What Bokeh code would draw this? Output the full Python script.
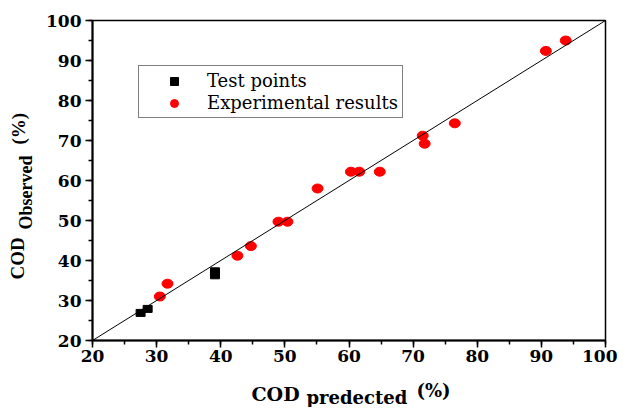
from bokeh.plotting import figure
from bokeh.models import (Range1d, SingleIntervalTicker, Label, Legend, LegendItem,
                          Slope, ColumnDataSource, GridBox, Column)
from bokeh.embed import file_html
from bokeh.resources import INLINE
import math

# ---- data ----
test_x = [27.5, 28.6, 39.1, 39.1]
test_y = [26.9, 27.9, 37.3, 36.3]
exp_x = [30.5, 31.7, 42.6, 44.7, 49.0, 50.4, 55.1, 60.3, 61.6, 64.8, 71.5, 71.8, 76.5, 90.7, 93.8]
exp_y = [31.0, 34.2, 41.2, 43.6, 49.7, 49.7, 58.0, 62.2, 62.2, 62.2, 71.2, 69.2, 74.3, 92.4, 95.0]
legend_labels = ["Test points", "Experimental results"]
x_title = ["COD", "predected", "(%)"]
y_title = ["COD", "Observed", "(%)"]

W, H = 617, 407

p = figure(width=W, height=H, output_backend="svg", toolbar_location=None,
           x_range=Range1d(20, 100), y_range=Range1d(20, 100),
           min_border_left=92, min_border_right=12, min_border_top=20, min_border_bottom=67)
p.background_fill_color = "white"
p.border_fill_color = "white"
p.grid.visible = False
p.outline_line_color = "black"
p.outline_line_width = 1.5

for ax in (p.xaxis[0], p.yaxis[0]):
    ax.ticker = SingleIntervalTicker(interval=10, num_minor_ticks=2)
    ax.axis_line_width = 2
    ax.axis_line_color = "black"
    ax.major_tick_in = 0
    ax.major_tick_out = 7
    ax.minor_tick_in = 0
    ax.minor_tick_out = 4
    ax.major_tick_line_width = 1.5
    ax.minor_tick_line_width = 1.5
    ax.major_tick_line_color = "black"
    ax.minor_tick_line_color = "black"
    ax.major_label_text_font = "DejaVu Serif"
    ax.major_label_text_font_style = "bold"
    ax.major_label_text_font_size = "17px"
    ax.major_label_text_color = "black"
p.xaxis.major_label_standoff = 2
p.yaxis.major_label_standoff = 4

# y = x reference line
p.add_layout(Slope(gradient=1, y_intercept=0, line_color="black", line_width=1))

# data marks
src_t = ColumnDataSource(dict(x=test_x, y=test_y))
src_e = ColumnDataSource(dict(x=exp_x, y=exp_y))
p.ellipse(x="x", y="y", width=11, height=9, width_units="screen", height_units="screen",
          source=src_e, fill_color="red", line_color="red")
p.rect(x="x", y="y", width=9, height=7, width_units="screen", height_units="screen",
       source=src_t, fill_color="black", line_color="black")

# legend proxies (not drawn in the plot: NaN position)
nan = float("nan")
lt = p.scatter(x=[nan], y=[nan], marker="square", size=8, fill_color="black", line_color="black")
le = p.scatter(x=[nan], y=[nan], marker="circle", size=8, fill_color="red", line_color="red")
legend = Legend(items=[LegendItem(label=legend_labels[0], renderers=[lt]),
                       LegendItem(label=legend_labels[1], renderers=[le])],
                location=(46, 222), margin=0, padding=4, spacing=1,
                glyph_width=62, glyph_height=20, label_height=20, label_standoff=2,
                label_text_font="DejaVu Serif", label_text_font_size="18px",
                label_text_color="black",
                border_line_color="black", border_line_width=1,
                background_fill_color="white", background_fill_alpha=1)
p.add_layout(legend, "center")

# transparent overlay canvas (same size, same grid cell) for the axis titles,
# whose coordinates are canvas pixels (y measured upward from the bottom)
ov = figure(width=W, height=H, output_backend="svg", toolbar_location=None,
            x_range=Range1d(0, W), y_range=Range1d(0, H),
            x_axis_type=None, y_axis_type=None,
            min_border_left=0, min_border_right=0, min_border_top=0, min_border_bottom=0)
ov.outline_line_color = None
ov.background_fill_alpha = 0
ov.border_fill_alpha = 0
ov.grid.visible = False

try:
    p.frame_align = False
    ov.frame_align = False
    ov_child = ov
except Exception:
    ov_child = Column(ov)


def title_part(x, y, text, font, size, angle=0.0):
    ov.add_layout(Label(x=x, y=y, text=text, angle=angle,
                        text_font=font, text_font_style="bold", text_font_size=size,
                        text_color="black", text_baseline="alphabetic", text_align="left"))


xf = "DejaVu Serif"
title_part(251, 14, x_title[0], xf, "19px")
title_part(306, 10, x_title[1], xf, "18px")
title_part(416, 17, x_title[2], xf, "18px")

yf = "Liberation Serif"
title_part(17, H - 279, y_title[0], yf, "19px", math.pi / 2)
title_part(25, H - 229, y_title[1], yf, "18px", math.pi / 2)
title_part(18, H - 144, y_title[2], yf, "19px", math.pi / 2)

grid = GridBox(children=[(p, 0, 0), (ov_child, 0, 0)])
open("out.html", "w").write(file_html(grid, INLINE))
